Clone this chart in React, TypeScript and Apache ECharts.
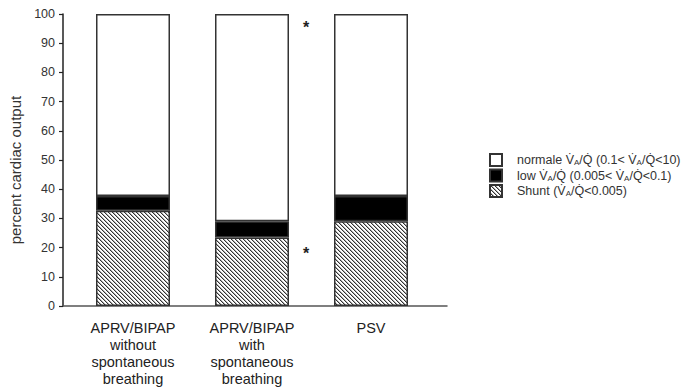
import React, { useEffect, useRef } from "react";
import * as echarts from "echarts";

const categories = [
  "APRV/BIPAP\nwithout\nspontaneous\nbreathing",
  "APRV/BIPAP\nwith\nspontaneous\nbreathing",
  "PSV",
];
const shuntValues = [32.6, 23.5, 29.0];
const lowValues = [5.1, 5.5, 8.7];
const normalValues = [62.3, 71.0, 62.3];
const yTicks = { min: 0, max: 100, interval: 10 };
const seriesNames = ["normale", "low", "Shunt"];
const legendTexts: Record<string, string> = {
  normale: "{t|normale V\u0307}{s|A}{t|/Q\u0307 (0.1< V\u0307}{s|A}{t|/Q\u0307<10)}",
  low: "{t|low V\u0307}{s|A}{t|/Q\u0307 (0.005< V\u0307}{s|A}{t|/Q\u0307<0.1)}",
  Shunt: "{t|Shunt (V\u0307}{s|A}{t|/Q\u0307<0.005)}",
};
const stars = ["*", "*"];

const FONT = "'Liberation Sans', Arial, sans-serif";

function makeHatch(): HTMLCanvasElement {
  const c = document.createElement("canvas");
  c.width = 4;
  c.height = 4;
  const ctx = c.getContext("2d")!;
  ctx.fillStyle = "#ffffff";
  ctx.fillRect(0, 0, 4, 4);
  ctx.fillStyle = "#333333";
  for (let i = 0; i < 4; i++) ctx.fillRect(i, i, 1, 1);
  ctx.fillStyle = "#b0b0b0";
  for (let i = 0; i < 4; i++) ctx.fillRect((i + 1) % 4, i, 1, 1);
  return c;
}

export default function App() {
  const ref = useRef<HTMLDivElement>(null);
  useEffect(() => {
    if (!ref.current) return;
    const chart = echarts.init(ref.current, undefined, { renderer: "svg" });
    const hatch = makeHatch();
    const border = { borderColor: "#333", borderWidth: 1.5 };
    chart.setOption({
      animation: false,
      backgroundColor: "#ffffff",
      textStyle: { fontFamily: FONT },
      grid: [
        { left: 63, right: 236, top: 14, bottom: 85 },
        { left: 73.5, right: 252.5, top: 14, bottom: 85 },
      ],
      xAxis: [
        {
          type: "category",
          gridIndex: 0,
          data: categories,
          axisLine: { show: true, lineStyle: { color: "#555", width: 1.5 } },
          axisTick: { show: false },
          axisLabel: { show: false },
        },
        {
          type: "category",
          gridIndex: 1,
          data: categories,
          axisLine: { show: false },
          axisTick: { show: false },
          axisLabel: {
            show: true,
            interval: 0,
            fontSize: 14.5,
            lineHeight: 17,
            color: "#222",
            fontFamily: FONT,
            margin: 13,
          },
        },
      ],
      yAxis: [
        {
          type: "value",
          gridIndex: 0,
          min: yTicks.min,
          max: yTicks.max,
          interval: yTicks.interval,
          name: "percent cardiac output",
          nameLocation: "middle",
          nameGap: 38,
          nameTextStyle: { fontSize: 15, color: "#333", fontFamily: FONT, padding: [0, 20, 0, 0] },
          axisLine: { show: true, lineStyle: { color: "#222", width: 1.5 } },
          axisTick: { show: true, inside: false, length: 4, lineStyle: { color: "#222", width: 1.2 } },
          axisLabel: { fontSize: 12.5, color: "#333", margin: 8, fontFamily: FONT },
          splitLine: { show: false },
        },
        {
          type: "value",
          gridIndex: 1,
          min: yTicks.min,
          max: yTicks.max,
          show: false,
        },
      ],
      legend: {
        orient: "vertical",
        left: 484,
        top: 148,
        itemWidth: 12,
        itemHeight: 12,
        itemGap: 1.5,
        icon: "rect",
        data: seriesNames,
        formatter: (name: string) => legendTexts[name],
        textStyle: {
          fontFamily: FONT,
          color: "#333",
          padding: [0, 0, 0, 10],
          rich: {
            t: { fontSize: 12.5, color: "#333", fontFamily: FONT, lineHeight: 13 },
            s: { fontSize: 8, color: "#333", fontFamily: FONT, lineHeight: 8, verticalAlign: "bottom" },
          },
        },
      },
      series: [
        {
          name: "Shunt",
          type: "bar",
          stack: "all",
          xAxisIndex: 1,
          yAxisIndex: 1,
          barWidth: 74,
          data: shuntValues,
          itemStyle: {
            color: { image: hatch, repeat: "repeat" },
            ...border,
          },
        },
        {
          name: "low",
          type: "bar",
          stack: "all",
          xAxisIndex: 1,
          yAxisIndex: 1,
          barWidth: 74,
          data: lowValues,
          itemStyle: { color: "#000", ...border },
        },
        {
          name: "normale",
          type: "bar",
          stack: "all",
          xAxisIndex: 1,
          yAxisIndex: 1,
          barWidth: 74,
          data: normalValues,
          itemStyle: { color: "#fff", ...border },
        },
      ],
      graphic: [
        {
          type: "text",
          x: 306,
          y: 27,
          style: { text: stars[0], fontSize: 16, fontWeight: "bold", fill: "#222", align: "center", verticalAlign: "middle", fontFamily: FONT },
        },
        {
          type: "text",
          x: 306,
          y: 253,
          style: { text: stars[1], fontSize: 16, fontWeight: "bold", fill: "#222", align: "center", verticalAlign: "middle", fontFamily: FONT },
        },
      ],
    });
    return () => chart.dispose();
  }, []);
  return (
    <div
      ref={ref}
      style={{ position: "fixed", left: 0, top: 0, width: 683, height: 391, background: "#fff" }}
    />
  );
}
